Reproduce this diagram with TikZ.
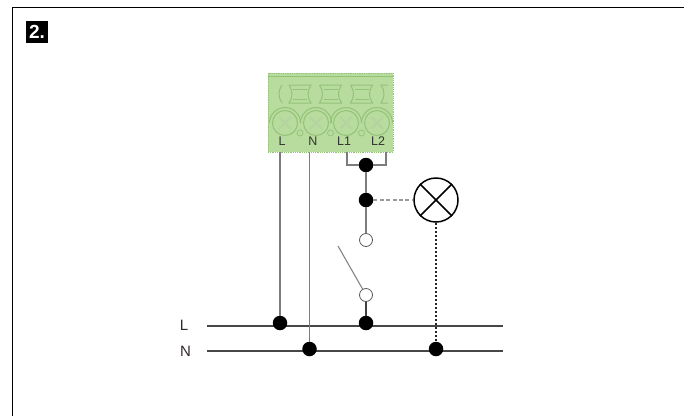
\documentclass[tikz,border=0pt]{standalone}
\usepackage{fontspec}
\setmainfont{Liberation Sans}
\definecolor{termgreen}{HTML}{B8DC9E}
\definecolor{termline}{HTML}{94C278}
\definecolor{wiregray}{HTML}{7C7C7C}
\definecolor{dashgray}{HTML}{9A9A9A}
\definecolor{labdark}{HTML}{33282F}
\begin{document}
\begin{tikzpicture}[x=1pt,y=-1pt,
  wire/.style={wiregray,line width=1.1pt},
  bus/.style={black!72,line width=1.3pt},
  dashwire/.style={black!85,line width=1.3pt,dash pattern=on 2.5pt off 1.5pt},
  graydash/.style={dashgray,line width=1.3pt,dash pattern=on 4pt off 2.4pt},
  dot/.style={circle,fill=black,inner sep=0pt,minimum size=14.5pt},
  open/.style={circle,draw=black!65,fill=white,line width=0.8pt,inner sep=0pt,minimum size=13pt},
  screw/.style={circle,draw=termline,line width=1pt,inner sep=0pt,minimum size=25pt},
  lab/.style={font=\fontsize{15}{15}\selectfont,text=labdark,inner sep=0pt},
  termlab/.style={font=\fontsize{12.5}{12.5}\selectfont,text=black!80,inner sep=0pt},
  clamp/.style={termline,line width=1pt}
]
\useasboundingbox (0,0) rectangle (684,416);
\fill[white] (0,0) rectangle (684,416);
\draw[black,line width=1.5pt] (12.5,416) -- (12.5,7.5) -- (684,7.5);
\node[fill=black,text=white,font=\bfseries\fontsize{19}{19}\selectfont,minimum width=22pt,minimum height=22pt,inner sep=0pt] (num) at (37,32) {2.};
% terminal
\node[rectangle,fill=termgreen,draw=termline,densely dotted,line width=0.8pt,minimum width=125pt,minimum height=79pt,inner sep=0pt] (term) at (330.5,112.5) {};
\draw[clamp] (268,76) -- (393,76);
\foreach \x/\nm/\tx/\txt in {285/a/282/L,316/b/313/N,346/c/344/L1,377/d/378/L2}{
  \node[screw] (s\nm) at (\x,123) {};
  \draw[clamp,line width=1.8pt,termline!70] (\x-6,117) -- (\x+6,129) (\x+6,117) -- (\x-6,129);
  \draw[clamp] (\x-15.5,123) arc[start angle=180,end angle=360,radius=15.5];
  \node[termlab] (t\nm) at (\tx,141) {\txt};
}
\foreach \x in {300,330.5,361.5}{
  \draw[clamp] (\x-11,85) -- (\x+11,85) to[bend right=35] (\x+11,103) -- (\x-11,103) to[bend right=35] (\x-11,85);
  \draw[clamp] (\x-7,89) -- (\x+7,89) (\x-7,99) -- (\x+7,99);
  \node[circle,draw=termline,line width=0.7pt,minimum size=6pt,inner sep=0pt] at (\x,133) {};
}
\draw[clamp] (282,85) to[bend right=35] (282,103) (388,85) -- (381,85) to[bend left=35] (381,103) -- (388,103);
% wires
\coordinate (tl) at (280,152);
\coordinate (tn) at (309.5,152);
\coordinate (tla) at (347,152);
\coordinate (tlb) at (386,152);
\node[lab] (busl) at (184,325) {L};
\node[lab] (busn) at (185.5,351) {N};
\coordinate (lstart) at (207,326);
\coordinate (lend) at (503,326);
\coordinate (nstart) at (207,351);
\coordinate (nend) at (503,351);
\draw[bus] (lstart) -- (lend);
\draw[bus] (nstart) -- (nend);
\node[dot] (jl) at (280,323) {};
\node[dot] (jn) at (309.5,349) {};
\node[dot] (jsw) at (366,323) {};
\node[dot] (jlamp) at (436,349) {};
\node[dot] (jtop) at (366,165) {};
\node[dot] (jmid) at (366,200) {};
\node[open] (ctop) at (366,240) {};
\node[open] (cbot) at (366,295) {};
\node[circle,draw=black,line width=1.5pt,minimum size=44pt,inner sep=0pt] (lamp) at (436,200) {};
\draw[black,line width=1.5pt] (lamp.north west) -- (lamp.south east) (lamp.north east) -- (lamp.south west);
\coordinate (swfree) at (338,246);
\draw[wire] (tl) -- (jl);
\draw[wire] (tn) -- (jn);
\draw[wire] (tla) |- (jtop);
\draw[wire] (tlb) |- (jtop);
\draw[wire] (jtop) -- (jmid);
\draw[wire] (jmid) -- (ctop);
\draw[wire,line width=1pt] (cbot) -- (swfree);
\draw[black!75,line width=1.5pt] (cbot) -- (jsw);
\draw[graydash] (jmid) -- (lamp);
\draw[dashwire] (lamp) -- (jlamp);
\end{tikzpicture}
\end{document}
